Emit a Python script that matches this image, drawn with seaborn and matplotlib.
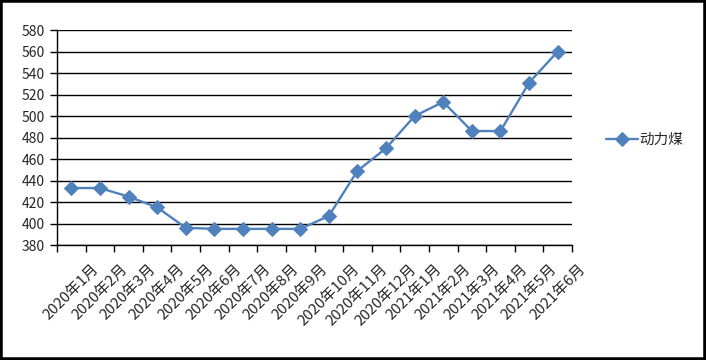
import matplotlib
matplotlib.use("Agg")
import matplotlib.pyplot as plt
import seaborn as sns
import pandas as pd
from matplotlib.patches import Rectangle

# datos del gráfico
meses = ["2020年1月", "2020年2月", "2020年3月", "2020年4月", "2020年5月", "2020年6月",
         "2020年7月", "2020年8月", "2020年9月", "2020年10月", "2020年11月", "2020年12月",
         "2021年1月", "2021年2月", "2021年3月", "2021年4月", "2021年5月", "2021年6月"]
precios = [433, 433, 425, 415, 396, 395, 395, 395, 395, 407, 449, 470,
           500, 513, 486, 486, 531, 560]
serie = "动力煤"

sns.set_style("white")
plt.rcParams["font.family"] = ["Noto Sans CJK SC", "DejaVu Sans"]

df = pd.DataFrame({"mes": meses, "precio": precios, "serie": serie})
azul = "#4F81BD"

fig = plt.figure(figsize=(7.06, 3.6), dpi=100)
ax = fig.add_axes([57 / 706, 1 - 245 / 360, (572 - 57) / 706, (245 - 30) / 360])

sns.lineplot(data=df, x="mes", y="precio", hue="serie", palette=[azul],
             marker="D", markersize=7, markeredgecolor=azul, linewidth=1.7,
             sort=False, ax=ax)

ax.set_xlim(-0.5, len(meses) - 0.5)
ax.set_ylim(380, 580)
ax.set_yticks(range(380, 581, 20))
ax.yaxis.grid(True, color="black", linewidth=1)
ax.set_axisbelow(True)

# marcas entre categorías, etiquetas en el centro
ax.set_xticks([i - 0.5 for i in range(len(meses) + 1)])
ax.set_xticklabels([])
ax.set_xticks(range(len(meses)), minor=True)
ax.set_xticklabels(meses, minor=True, rotation=45, ha="center", va="top", fontsize=10.8)
ax.tick_params(axis="x", which="major", length=5, width=1, color="black", direction="out", bottom=True)
ax.tick_params(axis="x", which="minor", length=0, pad=12)
ax.tick_params(axis="y", length=5, width=1, color="black", direction="out", left=True,
               labelsize=10, pad=4)

for lado in ["top", "right"]:
    ax.spines[lado].set_visible(False)
for lado in ["left", "bottom"]:
    ax.spines[lado].set_color("black")
    ax.spines[lado].set_linewidth(1)

ax.set_xlabel("")
ax.set_ylabel("")

ax.legend(loc="center left", bbox_to_anchor=(600 / 706, 1 - 140 / 360),
          bbox_transform=fig.transFigure, frameon=False, fontsize=10.5,
          handlelength=2.2, handletextpad=0.1, borderaxespad=0)

# marco negro de la figura
fig.patches.append(Rectangle((0, 0), 1, 1, transform=fig.transFigure, fill=False,
                             edgecolor="black", linewidth=4))

fig.savefig("out.png", dpi=100, facecolor="white")
